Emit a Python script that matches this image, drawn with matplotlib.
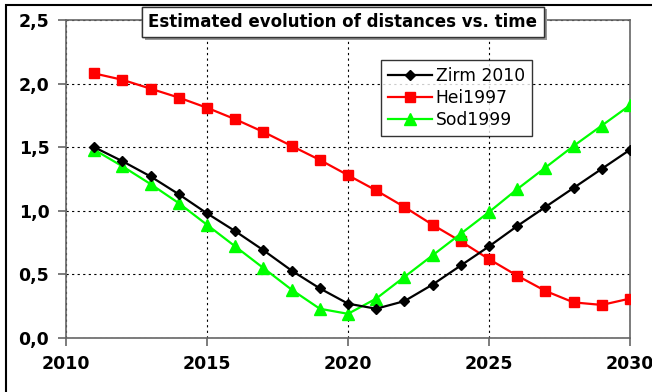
import matplotlib.pyplot as plt
import matplotlib.patheffects as pe
from matplotlib.patches import Rectangle
from matplotlib.ticker import FuncFormatter, MultipleLocator

years = list(range(2011, 2031))
zirm_2010 = [1.50, 1.39, 1.27, 1.13, 0.98, 0.84, 0.69, 0.53, 0.39, 0.27,
             0.23, 0.29, 0.42, 0.57, 0.72, 0.88, 1.03, 1.18, 1.33, 1.48]
hei_1997 = [2.08, 2.03, 1.96, 1.89, 1.81, 1.72, 1.62, 1.51, 1.40, 1.28,
            1.16, 1.03, 0.89, 0.76, 0.62, 0.49, 0.37, 0.28, 0.26, 0.31]
sod_1999 = [1.48, 1.35, 1.21, 1.06, 0.89, 0.72, 0.55, 0.38, 0.23, 0.19,
            0.31, 0.48, 0.65, 0.82, 0.99, 1.17, 1.34, 1.51, 1.67, 1.83]

fig = plt.figure(figsize=(6.52, 3.92), dpi=100)
ax = fig.add_axes([66 / 652, 1 - 338 / 392, (630 - 66) / 652, (338 - 20) / 392])

# outer chart frame
fig.patches.append(Rectangle((6 / 652, -0.1), 1.0, 1 - 5 / 392 + 0.1,
                             transform=fig.transFigure, fill=False,
                             edgecolor="black", linewidth=1.5))

ax.plot(years, zirm_2010, color="black", marker="D", markersize=5.5,
        linewidth=1.6, label="Zirm 2010", zorder=4)
ax.plot(years, hei_1997, color="#ff0000", marker="s", markersize=7,
        linewidth=1.6, label="Hei1997", zorder=3)
ax.plot(years, sod_1999, color="#00ff00", marker="^", markersize=8,
        linewidth=1.6, label="Sod1999", zorder=3)

ax.set_xlim(2010, 2030)
ax.set_ylim(0, 2.5)
ax.xaxis.set_major_locator(MultipleLocator(5))
ax.yaxis.set_major_locator(MultipleLocator(0.5))
ax.yaxis.set_major_formatter(FuncFormatter(lambda v, p: f"{v:.1f}".replace(".", ",")))
ax.grid(True, color="black", linestyle=(0, (2, 3)), linewidth=0.8)
for s in ax.spines.values():
    s.set_color("#666666")
    s.set_linewidth(1.2)
ax.tick_params(direction="out", length=6, width=1.2, color="#666666",
               labelsize=12.5, pad=6)
for lbl in ax.get_xticklabels() + ax.get_yticklabels():
    lbl.set_fontweight("bold")

leg = ax.legend(loc="upper left", bbox_to_anchor=((381 - 66) / 564, 1 - (60 - 20) / 318),
                borderaxespad=0, fontsize=12.3, frameon=True, fancybox=False,
                edgecolor="black", borderpad=0.4, handlelength=2.6,
                labelspacing=0.25, handletextpad=0.2)
leg.get_frame().set_linewidth(1.0)

title = fig.text(343 / 652, 1 - 22 / 392, "Estimated evolution of distances vs. time",
                 ha="center", va="center", fontsize=12, fontweight="bold",
                 bbox=dict(boxstyle="square,pad=0.38", facecolor="white",
                           edgecolor="#333333", linewidth=1.0))
title.get_bbox_patch().set_path_effects(
    [pe.withSimplePatchShadow(offset=(2, -2), shadow_rgbFace="#999999", alpha=1.0),
     pe.Normal()])

fig.savefig("out.png", dpi=100)
